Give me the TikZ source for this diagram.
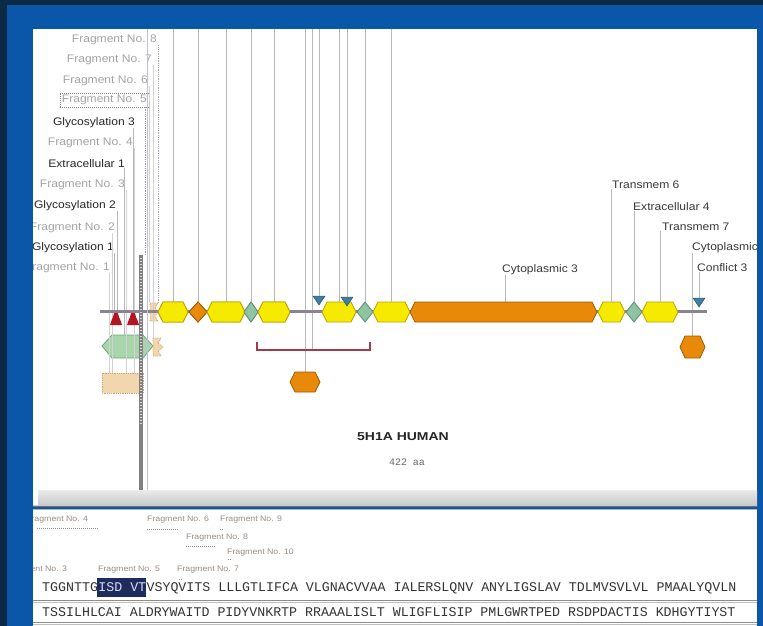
\documentclass[tikz,border=0pt]{standalone}
\usepackage{fontspec}
\setmainfont{Liberation Sans}
\newfontfamily\labf[FakeStretch=1.1]{Liberation Sans}
\newfontfamily\ttlf[FakeStretch=1.22]{Liberation Sans}
\newfontfamily\seqf{Liberation Mono}
\definecolor{navyc}{HTML}{0B2A45}
\definecolor{frameblue}{HTML}{0A56A8}
\definecolor{hexy}{HTML}{F6EA00}
\definecolor{hexyd}{HTML}{B8A400}
\definecolor{orng}{HTML}{E8890A}
\definecolor{orngd}{HTML}{A05A00}
\definecolor{grn}{HTML}{8FC4A2}
\definecolor{grnd}{HTML}{5E8E74}
\definecolor{tric}{HTML}{3E7FA0}
\definecolor{bellc}{HTML}{B31525}
\definecolor{trkc}{HTML}{8A8490}
\definecolor{vlc}{HTML}{B8B8B8}
\definecolor{flc}{HTML}{D2D2D2}
\definecolor{brkc}{HTML}{A23A4A}
\definecolor{beige}{HTML}{F2D6AE}
\definecolor{beiged}{HTML}{D5A36A}
\definecolor{fragc}{HTML}{A4A4A4}
\definecolor{darkc}{HTML}{262626}
\definecolor{rlabc}{HTML}{3A3A3A}
\definecolor{smlc}{HTML}{9C8C82}
\definecolor{seqc}{HTML}{333333}
\definecolor{hlc}{HTML}{1E2C5C}
\definecolor{greenc}{HTML}{A8D6AA}
\definecolor{greend}{HTML}{72A67A}
\newcommand\mkhex[6]{%
  \path[#5] (#1,#3) -- ({#1+5},{#3-#4}) -- ({#2-5},{#3-#4}) -- (#2,#3) -- ({#2-5},{#3+#4}) -- ({#1+5},{#3+#4}) -- cycle;
  \coordinate (#6) at ({(#1+#2)/2},{#3-#4});}
\newcommand\mkdia[6]{%
  \path[#5] ({#1-#3},#2) -- (#1,{#2-#4}) -- ({#1+#3},#2) -- (#1,{#2+#4}) -- cycle;
  \coordinate (#6) at (#1,{#2-#4});}
\newcommand\mktri[3]{%
  \path[fill=tric, draw=tric!70!black, line width=0.5bp] ({#1-6},#2) -- ({#1+6},#2) -- (#1,{#2+9}) -- cycle;
  \coordinate (#3) at (#1,#2);}
\newcommand\mkbell[1]{%
  \path[fill=bellc] ({#1-2},313) -- ({#1+2},313) .. controls ({#1+3},320) and ({#1+6},321) .. ({#1+6},325) -- ({#1-6},325) .. controls ({#1-6},321) and ({#1-3},320) .. ({#1-2},313) -- cycle;}
\begin{document}
\begin{tikzpicture}[x=1bp,y=-1bp,
  vl/.style={draw=vlc, line width=0.9bp},
  fl/.style={draw=flc, line width=0.8bp},
  lab/.style={inner sep=0pt, font=\labf\fontsize{11}{12}\selectfont},
  frg/.style={lab, text=fragc, anchor=east},
  drk/.style={lab, text=darkc, anchor=east},
  rlab/.style={lab, text=rlabc, anchor=west},
  sml/.style={inner sep=0pt, anchor=west, text=smlc, font=\labf\fontsize{8}{9}\selectfont},
  seqtxt/.style={inner sep=0pt, anchor=base west, font=\seqf\fontsize{13.33}{14}\selectfont, text=seqc},
  yhex/.style={fill=hexy, draw=hexyd, line width=0.8bp},
  ohex/.style={fill=orng, draw=orngd, line width=0.8bp},
  gdia/.style={fill=grn, draw=grnd, line width=0.8bp},
  bsh/.style={fill=beige, draw=beiged, densely dotted, line width=0.8bp},
  uline/.style={draw=#1, densely dotted, line width=1bp},
]
\useasboundingbox (0,0) rectangle (763,626);
% frame
\fill[navyc] (0,0) rectangle (763,626);
\fill[frameblue] (7,5) rectangle (763,626);
\fill[white] (33,29) rectangle (757,490);
\shade[top color=black!8, bottom color=black!22] (33,490) rectangle (757,506);
\fill[white] (33,490) rectangle (38,505);
\draw[black!55, line width=1bp] (33,506) -- (757,506);
\draw[black!30, line width=1bp] (33,509) -- (757,509);
\fill[white] (33,510) rectangle (757,626);
\coordinate (top) at (0,29);

\begin{scope}
\clip (33,29) rectangle (757,490);
% ---------- track features (coordinates) ----------
\mkhex{158}{188}{312}{10}{yhex}{h1}
\mkdia{198}{312}{9}{10}{ohex}{d1}
\mkhex{207}{245}{312}{10}{yhex}{h2}
\mkdia{251}{312}{7}{10}{gdia}{d2}
\mkhex{258}{290}{312}{10}{yhex}{h3}
\coordinate (oh1) at (305,372);
\coordinate (brk) at (312,349);
% vertical connector lines from the top
\foreach \n in {h1,d1,h2,d2,h3} {\draw[vl] (\n) -- (\n |- top);}
\draw[vl] (oh1) -- (oh1 |- top);
\draw[vl] (brk) -- (brk |- top);
% bracket
\draw[brkc, line width=2bp] (257,342) -- (257,350) -- (370,350) -- (370,342);
% orange hex below
\mkhex{290}{320}{382}{10}{ohex}{oh1x}
% left side shapes
\path[fill=greenc, draw=greend, line width=0.8bp] (102,346) -- (112,335) -- (143,335) -- (153,346) -- (143,358) -- (112,358) -- cycle;
\coordinate (ex1) at (124,335);
\path[bsh] (153,338) -- (161,338) -- (158,343) -- (163,347) -- (158,351) -- (161,356) -- (153,356) -- cycle;
\path[bsh] (102,373) rectangle (143,393);
\path[bsh] (150,303) -- (158,303) -- (155,308) -- (158,312) -- (155,316) -- (158,321) -- (150,321) -- cycle;
\coordinate (f1) at (109,373);
\coordinate (f2) at (112,373);
\coordinate (f3) at (126,373);
\coordinate (f4) at (134,373);
\coordinate (f5) at (145,255);
\coordinate (f6) at (149,303);
\coordinate (f7) at (153,338);
\coordinate (f8) at (158,303);
\coordinate (g1) at (114,313);
\coordinate (g2) at (117,313);
\coordinate (g3) at (133,313);

% left labels
\node[frg] (lF8) at (157,40) {Fragment No. 8};
\node[frg] (lF7) at (152,60) {Fragment No. 7};
\node[frg] (lF6) at (148,81) {Fragment No. 6};
\node[frg, draw=black!45, dash pattern=on 1bp off 1bp, inner xsep=2bp, inner ysep=2bp] (lF5) at (149,100) {Fragment No. 5};
\node[drk] (lG3) at (135,123) {Glycosylation 3};
\node[frg] (lF4) at (133,143) {Fragment No. 4};
\node[drk] (lE1) at (125,164) {Extracellular 1};
\node[frg] (lF3) at (125,185) {Fragment No. 3};
\node[drk] (lG2) at (116,206) {Glycosylation 2};
\node[frg] (lF2) at (115,228) {Fragment No. 2};
\node[drk] (lG1) at (114,248) {Glycosylation 1};
\node[frg] (lF1) at (110,268) {Fragment No. 1};

% left connector lines
\draw[fl] (f1) -- (f1 |- lF1.south);
\draw[fl] (f2) -- (f2 |- lF2.south);
\draw[fl] (f3) -- (f3 |- lF3.south);
\draw[fl] (f4) -- (f4 |- lF4.south);
\draw[fl, densely dotted, draw=black!40] (f5) -- (f5 |- lF5.south);
\draw[fl] (f6) -- (f6 |- lF6.south);
\draw[fl] (f7) -- (f7 |- lF7.south);
\draw[fl, densely dotted, draw=black!35] (f8) -- (f8 |- lF8.south);
\draw[vl] (g1) -- (g1 |- lG1.south);
\draw[vl] (g2) -- (g2 |- lG2.south);
\draw[vl] (g3) -- (g3 |- lG3.south);
\draw[vl] (ex1) -- (ex1 |- lE1.south);

% right labels
\node[rlab] (lT6) at (612,185) {Transmem 6};
\node[rlab] (lE4) at (633,207) {Extracellular 4};
\node[rlab] (lT7) at (662,227) {Transmem 7};
\node[rlab] (lC4) at (692,248) {Cytoplasmic};
\node[rlab] (lCf) at (697,268) {Conflict 3};
\node[rlab] (lC3) at (502,270) {Cytoplasmic 3};
\coordinate (cy3) at (505,302);
\coordinate (oh2) at (692,336);
\draw[vl] (cy3) -- (cy3 |- lC3.south);
\draw[vl] (oh2) -- (oh2 |- lC4.south);

% ---------- main track ----------
\draw[trkc, line width=3bp] (100,311) -- (707,311);
\mkbell{116}
\mkbell{133}
\mkhex{158}{188}{312}{10}{yhex}{h1}
\mkdia{198}{312}{9}{10}{ohex}{d1}
\mkhex{207}{245}{312}{10}{yhex}{h2}
\mkdia{251}{312}{7}{10}{gdia}{d2}
\mkhex{258}{290}{312}{10}{yhex}{h3}
\mkhex{322}{356}{312}{10}{yhex}{h4}
\mkdia{365}{312}{8}{10}{gdia}{d3}
\mkhex{373}{410}{312}{10}{yhex}{h5}
\mkhex{410}{597}{312}{10}{ohex}{bar}
\mkhex{598}{625}{312}{10}{yhex}{h6}
\mkdia{634}{312}{8}{10}{gdia}{d4}
\mkhex{642}{678}{312}{10}{yhex}{h7}
\mktri{319}{296}{t1}
\mktri{347}{297}{t2}
\mktri{699}{298}{t3}
\mkhex{680}{705}{347}{11}{ohex}{oh2x}
\foreach \n in {h4,d3,h5,t1,t2} {\draw[vl] (\n) -- (\n |- top);}
\draw[vl] (h6) -- (h6 |- lT6.south);
\draw[vl] (d4) -- (d4 |- lE4.south);
\draw[vl] (h7) -- (h7 |- lT7.south);
\draw[vl] (t3) -- (t3 |- lCf.south);
% ruler
\draw[black!50, line width=4bp] (141,255) -- (141,490);
\draw[black!15, line width=2bp, dash pattern=on 1bp off 2bp] (141,258) -- (141,425);
\draw[black!30!blue!25, line width=1bp] (147,29) -- (147,490);
% title
\node[inner sep=0pt, text=darkc, font=\ttlf\bfseries\fontsize{11.5}{12}\selectfont] (title) at (403,437) {5H1A HUMAN};
\node[inner sep=0pt, text=black!60, font=\seqf\fontsize{10}{11}\selectfont] (len) at (407,462) {422 aa};
\end{scope}

% ---------- lower panel ----------
\begin{scope}
\clip (33,510) rectangle (757,626);
\node[sml] (b4) at (26,520) {Fragment No. 4};
\draw[uline=smlc] (37,528) -- (98,528);
\node[sml] (b6) at (147,520) {Fragment No. 6};
\draw[uline=smlc] (147,529) -- (177,529);
\node[sml] (b9) at (220,520) {Fragment No. 9};
\draw[uline=smlc] (220,529) -- (224,529);
\node[sml] (b8) at (186,538) {Fragment No. 8};
\draw[uline=smlc] (186,546) -- (215,546);
\node[sml] (b10) at (227,553) {Fragment No. 10};
\draw[uline=smlc] (228,559) -- (232,559);
\node[sml] (b3) at (5,570) {Fragment No. 3};
\node[sml] (b5) at (98,570) {Fragment No. 5};
\draw[uline=brkc] (98,579) -- (140,579);
\node[sml] (b7) at (177,570) {Fragment No. 7};
\draw[uline=smlc] (179,579) -- (183,579);
\fill[hlc] (97,578) rectangle (146,597);
\node[seqtxt] (seq1a) at (42,591) {TGGNTTG};
\node[seqtxt, text=blue!15!white] (hl) at (seq1a.base east) {ISD VT};
\node[seqtxt] (seq1b) at (hl.base east) {VSYQVITS LLLGTLIFCA VLGNACVVAA IALERSLQNV ANYLIGSLAV TDLMVSVLVL PMAALYQVLN};
\draw[black!45, line width=0.8bp] (33,600) -- (757,600);
\draw[black!25, line width=0.8bp] (33,602) -- (757,602);
\node[seqtxt] (seq2) at (42,616) {TSSILHLCAI ALDRYWAITD PIDYVNKRTP RRAAALISLT WLIGFLISIP PMLGWRTPED RSDPDACTIS KDHGYTIYST};
\draw[black!45, line width=0.8bp] (33,622) -- (757,622);
\draw[black!25, line width=0.8bp] (33,624) -- (757,624);
\end{scope}
\end{tikzpicture}
\end{document}
